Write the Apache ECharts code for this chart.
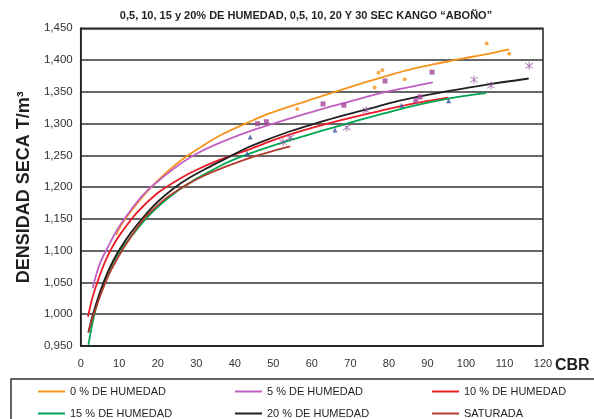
<!DOCTYPE html>
<html>
<head>
<meta charset="utf-8">
<script src="https://cdn.jsdelivr.net/npm/echarts@6/dist/echarts.min.js"></script>
<style>html,body{margin:0;padding:0;background:#fff;}#c{width:594px;height:419px;}</style>
</head>
<body>
<div id="c"></div>
<script>
const titleText = '0,5, 10, 15 y 20% DE HUMEDAD, 0,5, 10, 20 Y 30 SEC KANGO \u201CABOÑO\u201D';
const seriesNames = ['0 % DE HUMEDAD','5 % DE HUMEDAD','10 % DE HUMEDAD','15 % DE HUMEDAD','20 % DE HUMEDAD','SATURADA'];
const hum0 = [[9.2,1.125],[11,1.145],[14.6,1.174],[18,1.198],[21.5,1.219],[26,1.242],[31.9,1.266],[37,1.284],[43.5,1.302],[49,1.316],[55.3,1.329],[61,1.340],[67,1.352],[74.4,1.366],[80,1.376],[87.4,1.388],[93,1.395],[98.7,1.402],[105,1.409],[111.2,1.417]];
const hum5 = [[3.1,1.041],[5,1.080],[7.6,1.112],[10,1.138],[13.5,1.168],[17,1.193],[20.6,1.212],[25,1.233],[30.2,1.253],[37,1.272],[45.8,1.292],[52.7,1.305],[61.4,1.321],[70,1.335],[78.7,1.349],[85,1.357],[91.4,1.365]];
const hum10 = [[1.9,0.996],[3,1.025],[4.2,1.048],[5.5,1.070],[6.8,1.089],[8.5,1.109],[10.5,1.128],[14.6,1.160],[19.8,1.190],[24,1.207],[29.3,1.225],[36,1.243],[43.6,1.259],[50,1.274],[57.1,1.288],[64,1.300],[70,1.309],[77,1.319],[85,1.330],[95.4,1.341]];
const hum15 = [[2,0.952],[2.7,0.975],[3.3,0.993],[4.2,1.015],[5,1.032],[6.3,1.054],[7.6,1.072],[10.2,1.100],[12.8,1.120],[17.2,1.152],[21,1.174],[25.8,1.197],[30,1.213],[35.4,1.231],[40,1.244],[45.8,1.257],[52.7,1.271],[58.8,1.282],[65.7,1.294],[72,1.305],[78.7,1.316],[85,1.326],[91.7,1.335],[98,1.342],[105.2,1.348]];
const hum20 = [[2,0.971],[3,0.996],[4.2,1.020],[5.5,1.043],[6.8,1.063],[8.5,1.085],[10.2,1.103],[13,1.128],[16.3,1.153],[20,1.177],[24.1,1.198],[28,1.214],[32.8,1.230],[38,1.246],[43.2,1.262],[49,1.276],[54.4,1.288],[61.4,1.301],[67,1.311],[74,1.322],[81.3,1.334],[88,1.343],[94.3,1.350],[105,1.361],[116.3,1.371]];
const saturada = [[2,0.9725],[3,0.993],[4.2,1.014],[5.5,1.036],[7.6,1.066],[10.7,1.100],[12,1.112],[14.5,1.135],[17.2,1.155],[22,1.182],[27.6,1.204],[32,1.218],[38,1.233],[44.9,1.248],[50,1.257],[54.4,1.264]];
const dots0 = [[56.2,1.323],[76.3,1.357],[77.3,1.380],[78.3,1.384],[84.1,1.370],[105.4,1.426],[111.2,1.410]];
const squares = [[45.9,1.300],[48.2,1.303],[62.9,1.331],[68.3,1.329],[79.0,1.367],[87.0,1.336],[88.1,1.342],[91.2,1.381]];
const triangles = [[43.2,1.253],[44.0,1.279],[66.0,1.290],[83.3,1.329],[95.5,1.336]];
const asterisks = [[52.5,1.271],[54.4,1.278],[69.1,1.294],[74.1,1.321],[102.1,1.369],[106.5,1.360],[116.4,1.391]];
const lineColors = ['#F7941D','#C060C0','#ED1C24','#00A651','#231F20','#B03A2E'];

const FONT = '"Liberation Sans", Arial, Helvetica, sans-serif';
const starPath = 'path://M4.5 0L5.5 0L5.5 10L4.5 10Z M1.4 1.2L9.2 8.0L8.6 8.8L0.8 2.0Z M8.6 1.2L9.2 2.0L1.4 8.8L0.8 8.0Z';

const lineData = [hum0, hum5, hum10, hum15, hum20, saturada];
const series = lineData.map((d, i) => ({
  name: seriesNames[i], type: 'line', data: d, smooth: 0.35, showSymbol: false, symbol: 'none',
  lineStyle: { color: lineColors[i], width: 1.8 }, itemStyle: { color: lineColors[i] }, z: 3
}));
series.push(
  { name: 'm0', type: 'scatter', data: dots0, symbol: 'circle', symbolSize: 4, itemStyle: { color: '#F7941D' }, z: 4 },
  { name: 'm5', type: 'scatter', data: squares, symbol: 'rect', symbolSize: 5, itemStyle: { color: '#A4449B' }, z: 4 },
  { name: 'm15', type: 'scatter', data: triangles, symbol: 'triangle', symbolSize: 5, itemStyle: { color: '#3953A4' }, z: 4 },
  { name: 'm20', type: 'scatter', data: asterisks, symbol: starPath, symbolSize: 8, itemStyle: { color: '#8E4C9E' }, z: 4 }
);

const legendLefts = [38, 235, 432];
const legendTops = [386, 408];
const legends = seriesNames.map((n, i) => ({
  orient: 'horizontal', icon: 'rect', itemWidth: 27, itemHeight: 2,
  textStyle: { fontFamily: FONT, fontSize: 11, color: '#231F20' },
  padding: 0, selectedMode: false,
  left: legendLefts[i % 3], top: legendTops[Math.floor(i / 3)], data: [n]
}));

const chart = echarts.init(document.getElementById('c'), null, { renderer: 'canvas' });
chart.setOption({
  animation: false,
  backgroundColor: '#fff',
  textStyle: { fontFamily: FONT },
  grid: { left: 80.7, right: 51, top: 28.3, bottom: 73, show: true, borderColor: '#222', borderWidth: 1.5, backgroundColor: 'transparent' },
  legend: legends,
  xAxis: {
    type: 'value', min: 0, max: 120, interval: 10,
    axisLine: { show: true, lineStyle: { color: '#222', width: 1.5 } },
    axisTick: { show: false }, splitLine: { show: false },
    axisLabel: { color: '#333', fontSize: 11, margin: 12, fontFamily: FONT }
  },
  yAxis: {
    type: 'value', min: 0.95, max: 1.45, interval: 0.05,
    name: 'DENSIDAD SECA T/m\u00B3', nameLocation: 'middle', nameGap: 44, nameRotate: 90,
    nameTextStyle: { fontFamily: FONT, fontSize: 18, fontWeight: 'bold', color: '#231F20' },
    axisLine: { show: true, lineStyle: { color: '#222', width: 1.5 } },
    axisTick: { show: false },
    splitLine: { show: true, lineStyle: { color: '#333', width: 1.5 } },
    axisLabel: { color: '#333', fontSize: 11.5, margin: 8, fontFamily: FONT, formatter: v => v.toFixed(3).replace('.', ',') }
  },
  graphic: [
    { type: 'text', x: 306, y: 16, style: { text: titleText, font: 'bold 11px ' + FONT, fill: '#231F20', textAlign: 'center', textVerticalAlign: 'middle' } },
    { type: 'text', x: 555, y: 366, style: { text: 'CBR', font: 'bold 16px ' + FONT, fill: '#231F20', textAlign: 'left', textVerticalAlign: 'middle' } },
    { type: 'rect', shape: { x: 11, y: 379, width: 600, height: 60 }, style: { fill: 'none', stroke: '#333', lineWidth: 1.5 } }
  ],
  series: series
});
</script>
</body>
</html>
